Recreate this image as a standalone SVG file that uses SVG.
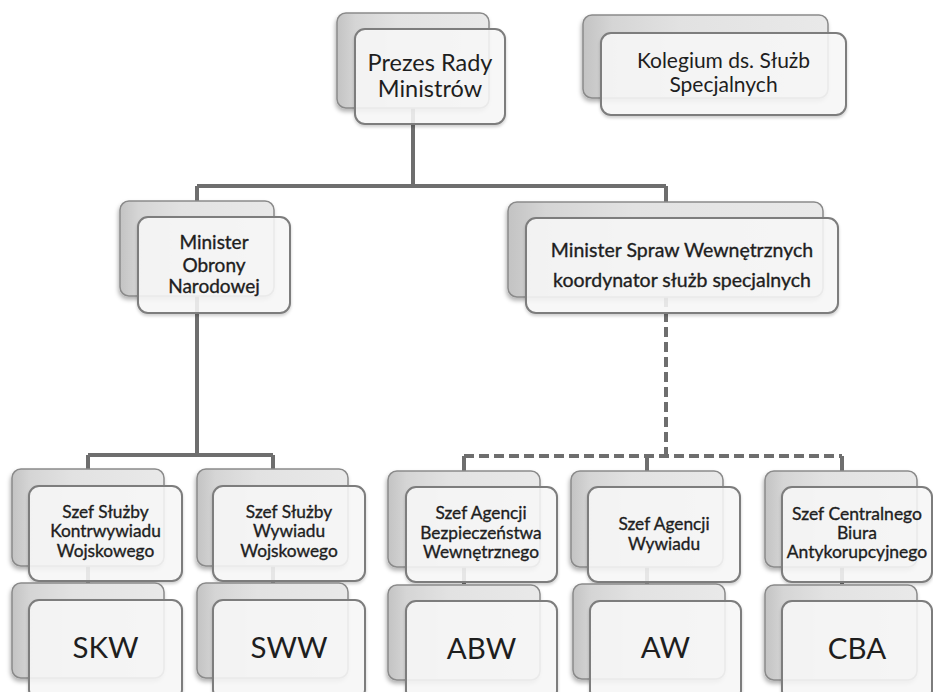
<svg xmlns="http://www.w3.org/2000/svg" width="933" height="692" viewBox="0 0 933 692">
<defs>
<linearGradient id="gb" x1="0" y1="0" x2="1" y2="0">
<stop offset="0" stop-color="#c3c3c3"/>
<stop offset="0.12" stop-color="#d5d5d5"/>
<stop offset="0.4" stop-color="#e2e2e2"/>
<stop offset="1" stop-color="#e9e9e9"/>
</linearGradient>
<filter id="sh" x="-10%" y="-10%" width="125%" height="130%">
<feDropShadow dx="-1" dy="3" stdDeviation="2" flood-color="#000" flood-opacity="0.3"/>
</filter>
<filter id="sh2" x="-10%" y="-10%" width="125%" height="130%">
<feDropShadow dx="0" dy="2" stdDeviation="1.5" flood-color="#000" flood-opacity="0.2"/>
</filter>
</defs>
<style>
.bk{fill:url(#gb);stroke:#8a8a8a;stroke-width:1.5;filter:url(#sh)}
.fr{fill:#f9f9f9;fill-opacity:0.86;stroke:#7d7d7d;stroke-width:2;filter:url(#sh2)}
.t{font-family:Lato,"Liberation Sans",sans-serif;fill:#1e1e1e;text-anchor:middle}
.b{stroke:#1e1e1e;stroke-width:0.35}
.c{fill:none;stroke:#6e6e6e;stroke-width:4}
.d{stroke-dasharray:10 5}
</style>
<rect width="933" height="692" fill="#ffffff"/>
<g id="connectors">
<path class="c" d="M413,108 V186 M197,186 H666 M197,186 V201 M666,186 V202 M197,296 V455 M88,455 H273 M88,455 V469 M273,455 V469"/>
<path class="c d" d="M666,297 V452"/>
<path class="c d" d="M464,456 H842"/>
<path class="c" d="M464,456 V471 M647,456 V471 M842,456 V471 M666,450 V456"/>
<path class="c" d="M88,566 V583 M273,566 V583 M464,567 V584 M647,567 V584 M842,567 V584"/>
</g>
<g id="n-prezes">
<rect class="bk" x="337" y="13" width="152" height="95" rx="9"/>
<rect class="fr" x="355" y="29" width="150" height="95" rx="10"/>
<text class="t" font-size="23.5"><tspan x="430" y="71">Prezes Rady</tspan><tspan x="430" y="97">Ministrów</tspan></text>
</g>
<g id="n-kolegium">
<rect class="bk" x="583" y="15" width="245" height="83" rx="9"/>
<rect class="fr" x="601" y="33" width="245" height="82" rx="10"/>
<text class="t" font-size="21"><tspan x="723.5" y="68">Kolegium ds. Służb</tspan><tspan x="723.5" y="92">Specjalnych</tspan></text>
</g>
<g id="n-mon">
<rect class="bk" x="120" y="201" width="154" height="95" rx="9"/>
<rect class="fr" x="138" y="217" width="152" height="96" rx="10"/>
<text class="t b" font-size="19"><tspan x="214" y="249">Minister</tspan><tspan x="214" y="272">Obrony</tspan><tspan x="214" y="293">Narodowej</tspan></text>
</g>
<g id="n-msw">
<rect class="bk" x="508" y="202" width="315" height="95" rx="9"/>
<rect class="fr" x="526" y="218" width="312" height="95" rx="10"/>
<text class="t b" font-size="19.5"><tspan x="682" y="257">Minister Spraw Wewnętrznych</tspan><tspan x="682" y="287">koordynator służb specjalnych</tspan></text>
</g>
<g id="n-szef-skw">
<rect class="bk" x="12" y="469" width="152" height="97" rx="9"/>
<rect class="fr" x="29" y="486" width="153" height="95" rx="10"/>
<text class="t b" font-size="17.3"><tspan x="105.5" y="518">Szef Służby</tspan><tspan x="105.5" y="537">Kontrwywiadu</tspan><tspan x="105.5" y="557">Wojskowego</tspan></text>
</g>
<g id="n-szef-sww">
<rect class="bk" x="197" y="469" width="151" height="97" rx="9"/>
<rect class="fr" x="213" y="486" width="152" height="95" rx="10"/>
<text class="t b" font-size="17.3"><tspan x="289" y="518">Szef Służby</tspan><tspan x="289" y="537">Wywiadu</tspan><tspan x="289" y="557">Wojskowego</tspan></text>
</g>
<g id="n-szef-abw">
<rect class="bk" x="388" y="471" width="152" height="96" rx="9"/>
<rect class="fr" x="406" y="487" width="151" height="95" rx="10"/>
<text class="t b" font-size="17.3"><tspan x="481" y="519">Szef Agencji</tspan><tspan x="481" y="539">Bezpieczeństwa</tspan><tspan x="481" y="558">Wewnętrznego</tspan></text>
</g>
<g id="n-szef-aw">
<rect class="bk" x="571" y="471" width="152" height="96" rx="9"/>
<rect class="fr" x="588" y="487" width="152" height="95" rx="10"/>
<text class="t b" font-size="17.3"><tspan x="664" y="530">Szef Agencji</tspan><tspan x="664" y="550">Wywiadu</tspan></text>
</g>
<g id="n-szef-cba">
<rect class="bk" x="765" y="471" width="152" height="96" rx="9"/>
<rect class="fr" x="782" y="487" width="150" height="95" rx="10"/>
<text class="t b" font-size="17.5"><tspan x="857" y="520">Szef Centralnego</tspan><tspan x="857" y="539">Biura</tspan><tspan x="857" y="558">Antykorupcyjnego</tspan></text>
</g>
<g id="n-skw">
<rect class="bk" x="12" y="583" width="152" height="95" rx="9"/>
<rect class="fr" x="29" y="600" width="153" height="100" rx="10"/>
<text class="t" font-size="29.5" x="105.5" y="658">SKW</text>
</g>
<g id="n-sww">
<rect class="bk" x="197" y="583" width="151" height="95" rx="9"/>
<rect class="fr" x="213" y="600" width="152" height="100" rx="10"/>
<text class="t" font-size="29.5" x="289" y="658">SWW</text>
</g>
<g id="n-abw">
<rect class="bk" x="388" y="585" width="152" height="95" rx="9"/>
<rect class="fr" x="406" y="601" width="151" height="100" rx="10"/>
<text class="t" font-size="29.5" x="481.5" y="659">ABW</text>
</g>
<g id="n-aw">
<rect class="bk" x="573" y="584" width="152" height="95" rx="9"/>
<rect class="fr" x="590" y="601" width="151" height="100" rx="10"/>
<text class="t" font-size="29.5" x="665.5" y="658">AW</text>
</g>
<g id="n-cba">
<rect class="bk" x="765" y="585" width="152" height="95" rx="9"/>
<rect class="fr" x="782" y="601" width="150" height="100" rx="10"/>
<text class="t" font-size="29.5" x="857" y="659">CBA</text>
</g>
</svg>
